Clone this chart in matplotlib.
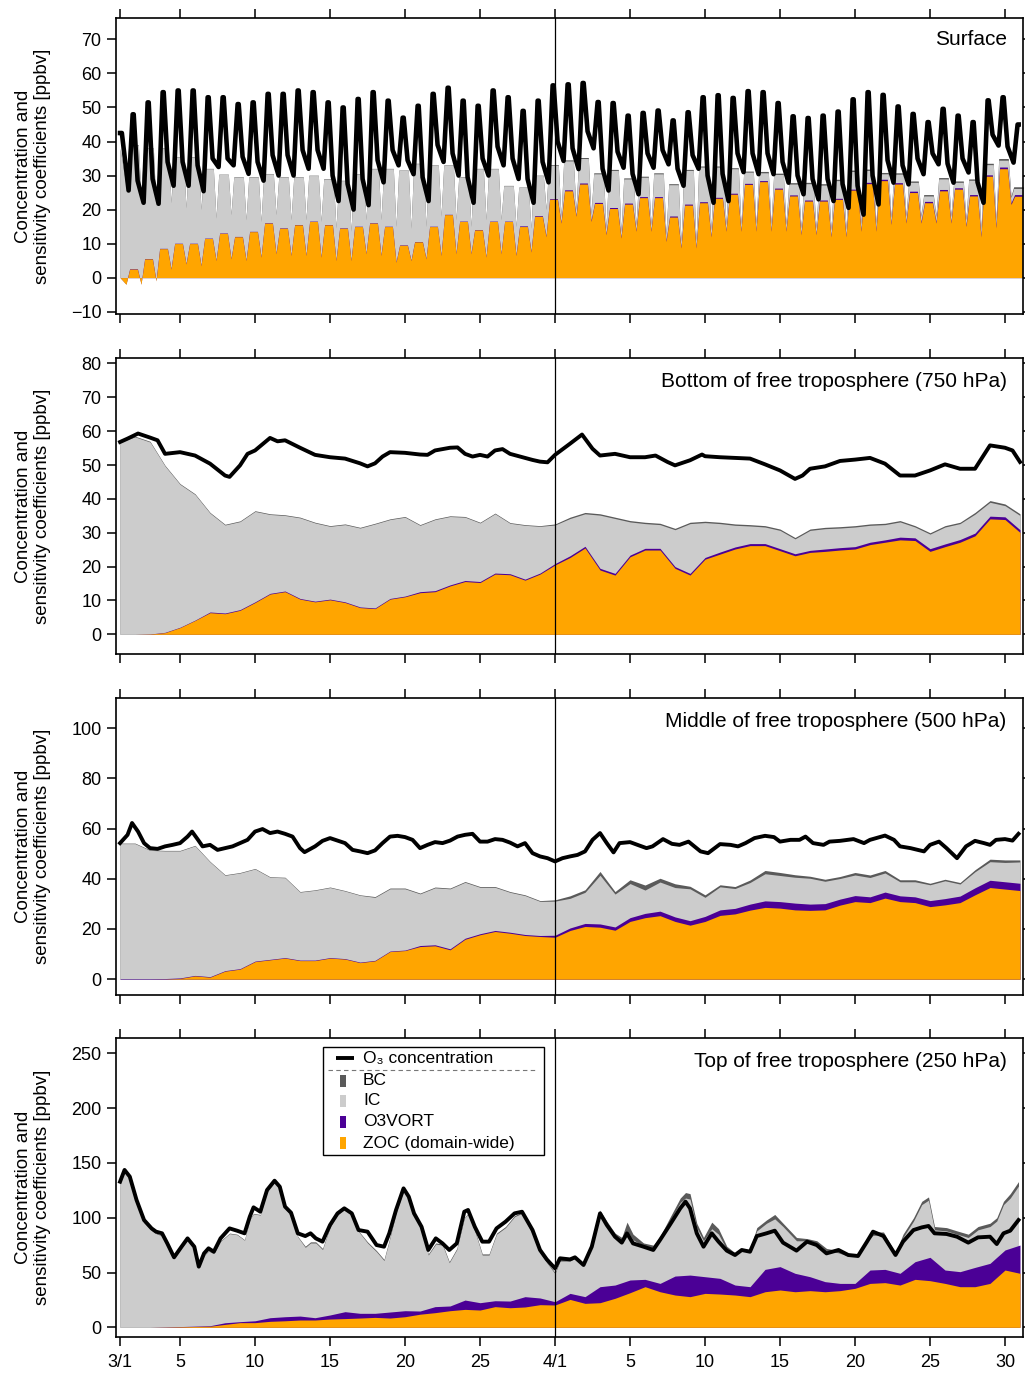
import numpy as np
import matplotlib
matplotlib.use("Agg")
import matplotlib.pyplot as plt
from matplotlib.patches import Rectangle

plt.rcParams['font.family'] = ['Liberation Sans', 'DejaVu Sans']

# renkler / colours of the stacked contributions
c_zoc = '#FFA500'
c_vort = '#4B0096'
c_ic = '#CCCCCC'
c_bc = '#5A5A5A'

# x axis (day coordinate, 4/1 drawn at 30)
tick_pos = [1, 5, 10, 15, 20, 25, 30, 35, 40, 45, 50, 55, 60]
tick_lab = ['3/1', '5', '10', '15', '20', '25', '4/1', '5', '10', '15', '20', '25', '30']
month_split = 30

# ---------------- surface (daily troughs / peaks / evening shoulders) ----
sfc_days = np.arange(1, 61)
sfc_o3_start = 42.5
sfc_o3_low = [25.6, 22, 21.7, 27, 27, 25.4, 32.5, 33, 30.5, 28.5, 30, 30, 32, 32, 22.5,
              20, 21.3, 28, 33, 30.4, 22.5, 34, 30, 22, 30, 33, 29, 22, 28,
              34.3, 31.9, 38, 25.6, 32.3, 24.5, 32.3, 33.3, 27, 32, 22, 22.5, 31, 30.4, 30.4,
              27.9, 24.5, 23, 22.5, 20.5, 18.5, 21.5, 27.9, 27.4, 30.4, 33.3, 27.9, 30.9, 22,
              38.8, 33.8]
sfc_o3_high = [48, 51.5, 54.5, 55, 55, 53, 53, 51, 51.5, 54, 54, 55, 54.5, 51.5, 50,
               52.5, 54.5, 52, 47, 50.5, 54, 55.8, 52, 50.5, 55, 53, 49, 52, 56.5,
               56.8, 57.2, 51.6, 51.3, 47.6, 48.4, 49.1, 46.2, 48.6, 53, 53.6, 52.8, 54.8,
               54.5, 51.3, 47.4, 46.9, 47.6, 48.8, 52.4, 54.5, 53.7, 50.3, 48.1, 45.7, 49.6,
               47.6, 45.7, 52.1, 53, 45]
sfc_o3_eve = [28.5, 29, 34, 34, 33, 35, 35, 35.5, 34, 36, 36, 37.5, 37.5, 30, 27.5,
              29, 34.5, 37.5, 34.5, 29.5, 39, 36.5, 29.5, 35, 38.5, 35, 29, 34, 40,
              38, 43, 32, 37, 30.5, 36.5, 37.5, 32, 36, 30, 30.5, 36.5, 36.5, 36.5, 34,
              30, 29, 29, 27.5, 27, 30, 34.5, 33, 35, 36.5, 33.5, 35, 28, 42, 38.5]
sfc_zoc_top = [2.5, 5.5, 8.5, 10, 10, 11.5, 13, 12, 13.5, 16, 14.5, 15.5, 16.5, 15.5, 14.5,
               15, 16, 15, 9.5, 10.5, 15, 18.5, 16.5, 14, 16.5, 16.5, 15, 18, 23,
               25.5, 27.5, 21.8, 20.3, 21.6, 23.5, 23.5, 17.8, 21.3, 22, 23.3, 24.5, 27.4,
               28.2, 26, 24, 22.5, 22.5, 23, 25.7, 27.6, 28.5, 27.5, 25, 22, 25.5, 26, 24,
               29.8, 32, 23.9]
sfc_zoc_low = [-2, -2, -1, 2.5, 4, 3.5, 5, 5.5, 5, 6, 7, 6.5, 6.5, 6, 5,
               5, 7, 6.5, 4.5, 5, 5.5, 6.5, 7, 7, 6, 7, 6.5, 7.5, 12,
               16, 18, 16.5, 12.6, 11.6, 13.6, 13.6, 10.6, 8.7, 8.7, 12, 13.6, 13.6, 13.6,
               13.6, 13.6, 12.6, 12.6, 12, 12, 13.6, 13.6, 15.6, 16, 16, 16, 16, 15, 12,
               14.6, 21.5]
sfc_tot_top = [39, 38, 38, 35.5, 35.5, 32, 30.3, 29.5, 29.5, 30.5, 29.5, 29.5, 30, 29, 28.5,
               30.5, 32, 32, 31.5, 33.5, 33, 33, 29.5, 32, 32, 27, 26.5, 30, 33,
               34.3, 35, 30.5, 31.5, 29, 29.5, 30.5, 27.3, 31.5, 32.5, 32.5, 32, 31, 30.8,
               30.3, 27.5, 27.6, 27.2, 28.5, 31.2, 31.5, 30.5, 30.4, 28, 24, 29, 28, 28.6,
               33.2, 34.5, 26.2]
sfc_tot_low = [27, 24, 21, 22, 20.5, 20, 17.5, 18.5, 17, 16.5, 18.5, 17, 17, 16.5, 14.6,
               13.6, 17, 17, 15, 14.5, 15, 18, 17, 15, 17, 17, 15, 14.5, 20,
               18, 20, 18.5, 14.5, 13.5, 15.5, 15.5, 12.5, 10.5, 10.5, 14, 15.5, 15.5, 15.5,
               15.5, 15.5, 14.5, 14.5, 14, 14, 15.5, 15.5, 17.5, 18, 18, 18, 18, 17, 14,
               16.5, 23.5]
sfc_vort = [0.1, 0.1, 0.1, 0.1, 0.1, 0.1, 0.1, 0.1, 0.1, 0.1, 0.1, 0.1, 0.1, 0.1, 0.1,
            0.1, 0.1, 0.1, 0.1, 0.1, 0.1, 0.1, 0.1, 0.1, 0.1, 0.1, 0.2, 0.2, 0.2,
            0.3, 0.3, 0.3, 0.3, 0.3, 0.3, 0.3, 0.3, 0.3, 0.3, 0.3, 0.3, 0.3, 0.3, 0.3,
            0.3, 0.3, 0.3, 0.3, 0.3, 0.4, 0.4, 0.4, 0.4, 0.4, 0.4, 0.4, 0.4, 0.4,
            0.5, 0.5]
sfc_bc = [0.1, 0.1, 0.1, 0.1, 0.1, 0.1, 0.1, 0.1, 0.1, 0.1, 0.1, 0.1, 0.1, 0.1, 0.1,
          0.1, 0.1, 0.1, 0.1, 0.1, 0.1, 0.1, 0.1, 0.1, 0.1, 0.1, 0.1, 0.1, 0.2,
          0.3, 0.3, 0.3, 0.3, 0.3, 0.3, 0.3, 0.3, 0.3, 0.3, 0.3, 0.3, 0.3, 0.4, 0.4,
          0.4, 0.4, 0.4, 0.4, 0.4, 0.4, 0.4, 0.4, 0.4, 0.4, 0.4, 0.4, 0.4, 0.4,
          0.5, 0.5]

# ---------------- 750 hPa ----------------
p2_t_o3 = [1, 1.5, 2.2, 3, 3.5, 4, 5, 6, 7, 8, 8.3, 9, 9.5, 10, 11, 11.5, 12, 13, 14, 15,
           16, 17, 17.5, 18, 18.5, 19, 20, 21, 21.5, 22, 23, 23.5, 24, 24.5, 25, 25.5, 26,
           26.5, 27, 28, 28.5, 29, 29.5, 30, 31, 31.8, 32.5, 33, 34, 35, 36, 36.7, 37.5, 38,
           39, 39.8, 40, 41, 42, 43, 44, 45, 46, 46.5, 47, 48, 49, 50, 51, 52, 53, 54, 55,
           56, 57, 58, 59, 60, 60.5, 61]
p2_o3 = [56.8, 57.8, 59.3, 58.1, 57.3, 53.3, 53.8, 52.8, 50.4, 46.9, 46.5, 49.9, 53.3, 54.3,
         58, 57, 57.3, 55.1, 53, 52.3, 51.9, 50.5, 49.6, 50.5, 52.5, 53.8, 53.6, 53.1, 53,
         54.3, 55.1, 55.2, 53.3, 52.5, 53, 52.5, 54.3, 54.7, 53.3, 52.1, 51.5, 51, 50.8, 53,
         56.3, 59, 54.8, 52.8, 53.3, 52.3, 52.3, 52.8, 50.9, 49.9, 51.4, 53.1, 52.6, 52.3,
         52.1, 51.9, 50.2, 48.4, 45.9, 46.9, 48.9, 49.6, 51.2, 51.6, 52.1, 50.4, 46.9, 46.9,
         48.4, 50.2, 48.9, 48.9, 55.8, 55.1, 54.3, 50.9]
p2_days = np.arange(1, 62)
p2_top = [57, 58.5, 57, 49.9, 44.5, 41.5, 36, 32.5, 33.5, 36.5, 35.6, 35.3, 34.6, 33.1, 32.1,
          32.6, 31.6, 32.8, 34.1, 34.8, 32.4, 34.1, 35, 34.8, 33.1, 35.8, 33, 32.4, 32.1, 32.6,
          34.6, 36, 35.6, 34.6, 33.6, 33.1, 32.8, 31.3, 33.1, 33.4, 33.1, 32.6, 32.4, 32.1,
          31.1, 28.6, 31.1, 31.6, 31.8, 32.1, 32.6, 32.8, 33.6, 32.1, 30, 32.1, 33.1, 36,
          39.5, 38.5, 35.6]
p2_bc = [0.2, 0.2, 0.2, 0.2, 0.2, 0.2, 0.2, 0.2, 0.2, 0.2, 0.2, 0.2, 0.2, 0.2, 0.2,
         0.2, 0.2, 0.2, 0.2, 0.2, 0.2, 0.2, 0.2, 0.2, 0.2, 0.2, 0.2, 0.2, 0.2, 0.3,
         0.4, 0.4, 0.4, 0.4, 0.4, 0.4, 0.4, 0.4, 0.4, 0.4, 0.4, 0.4, 0.4, 0.4, 0.4,
         0.4, 0.4, 0.4, 0.4, 0.4, 0.4, 0.4, 0.4, 0.4, 0.4, 0.4, 0.4, 0.5, 0.5, 0.5, 0.5]
p2_zoc = [0, 0, 0.1, 0.5, 2, 4.1, 6.4, 6.1, 7.1, 9.4, 11.9, 12.6, 10.4, 9.6, 10.2, 9.4, 7.9,
          7.6, 10.4, 11.1, 12.3, 12.6, 14.3, 15.6, 15.3, 17.8, 17.6, 16, 17.8, 20.5, 22.7,
          25.5, 19, 17.5, 22.9, 24.9, 24.9, 19.5, 17.5, 22.2, 23.7, 25.2, 26.2, 26.2, 24.7,
          23.2, 24.2, 24.5, 24.9, 25.2, 26.5, 27.2, 27.9, 27.7, 24.5, 25.9, 27.2, 29.1, 34.1,
          33.9, 30.1]
p2_vort = [0, 0, 0, 0.1, 0.1, 0.1, 0.2, 0.2, 0.2, 0.2, 0.2, 0.2, 0.2, 0.2, 0.2,
           0.2, 0.2, 0.2, 0.2, 0.2, 0.3, 0.3, 0.3, 0.3, 0.3, 0.3, 0.3, 0.3, 0.3, 0.4,
           0.5, 0.5, 0.5, 0.5, 0.5, 0.5, 0.5, 0.5, 0.5, 0.5, 0.6, 0.6, 0.6, 0.6, 0.6,
           0.6, 0.6, 0.7, 0.7, 0.7, 0.7, 0.7, 0.8, 0.8, 0.8, 0.8, 0.8, 0.8, 0.8, 0.8, 0.8]

# ---------------- 500 hPa ----------------
p3_t_o3 = [1, 1.5, 1.8, 2.2, 2.6, 3, 3.5, 4, 4.5, 5, 5.5, 5.8, 6.2, 6.5, 7, 7.5, 8, 8.5, 9,
           9.5, 10, 10.5, 11, 11.5, 12, 12.5, 13, 13.3, 14, 14.5, 15, 15.5, 16, 16.5, 17,
           17.5, 18, 18.5, 19, 19.5, 20, 20.5, 21, 21.5, 22, 22.5, 23, 23.5, 24, 24.5, 25,
           25.5, 26, 26.5, 27, 27.5, 28, 28.5, 29, 29.5, 30, 30.5, 31, 31.5, 32, 32.5, 33,
           33.45, 33.9, 34.3, 35, 35.5, 36.1, 36.5, 37.2, 37.8, 38.3, 38.9, 39.7, 40.2, 41,
           41.7, 42.2, 42.7, 43.3, 44, 44.6, 45, 45.7, 46.3, 46.7, 47.2, 47.9, 48.3, 49,
           49.9, 50.6, 51, 52, 52.6, 53, 53.7, 54.6, 55, 55.6, 56.1, 56.8, 57.4, 58, 58.6,
           59, 59.4, 60, 60.5, 60.9]
p3_o3 = [54.2, 57.5, 62.2, 58.8, 54.2, 52.2, 51.9, 52.9, 53.5, 54.2, 56.8, 58.8, 55.5, 52.9,
         53.5, 51.5, 52.2, 52.9, 54.2, 55.5, 58.8, 59.8, 58.2, 58.8, 57.9, 56.8, 52.2, 50.6,
         52.9, 55.1, 56.2, 55.2, 54.2, 51.5, 50.9, 50.2, 51.3, 54.2, 56.8, 57.1, 56.6, 55.5,
         52.2, 53.5, 54.6, 54.2, 55.2, 56.8, 57.5, 57.9, 54.8, 54.8, 55.8, 55.5, 54.4, 52.9,
         54.2, 50.2, 48.9, 48.2, 46.9, 48.2, 48.9, 49.5, 50.9, 55.5, 58.2, 54.2, 50.5, 54.2,
         54.6, 53.5, 52.2, 52.9, 55.8, 53.9, 53.5, 54.8, 50.9, 50.2, 53.8, 53.5, 52.9, 54.2,
         56.2, 57.1, 56.6, 54.8, 55.5, 55.5, 56.8, 54.2, 53.5, 54.8, 55.1, 55.8, 54.2, 55.5,
         57.2, 55.5, 52.9, 52.2, 50.9, 53.5, 54.8, 52.2, 48.2, 52.9, 55.1, 54.2, 53.5, 55.5,
         55.8, 55.2, 57.9]
p3_days = np.arange(1, 62)
p3_top = [54.2, 54.2, 51.5, 51.3, 51.3, 53.3, 46.9, 41.6, 42.5, 44.1, 40.8, 40.6, 34.9, 35.6,
          36.7, 35.3, 33.6, 32.9, 36.3, 36.3, 34.3, 36.7, 36.3, 38.9, 36.9, 36.9, 34.9, 33.6,
          31.3, 31.6, 33.2, 35.6, 42.9, 34.9, 39.6, 37.5, 40.2, 38, 37, 33.6, 37.6, 36.9,
          39.5, 43.3, 42.5, 41.6, 41, 39.8, 40.9, 42.5, 41.5, 43.3, 39.6, 39.6, 38.2, 39.8,
          38.5, 43.6, 47.8, 47.5, 47.5]
p3_bc = [0.2, 0.2, 0.2, 0.2, 0.2, 0.2, 0.2, 0.2, 0.2, 0.2, 0.2, 0.2, 0.2, 0.2, 0.2,
         0.2, 0.2, 0.3, 0.3, 0.3, 0.3, 0.3, 0.3, 0.3, 0.3, 0.3, 0.3, 0.3, 0.3, 0.5,
         1, 1, 1.5, 1, 1.5, 2, 1.5, 1.5, 1, 1, 0.8, 0.8, 1, 1.3, 1.2, 1, 0.8, 0.8, 0.8,
         1, 1, 1, 0.8, 0.8, 0.6, 0.6, 0.6, 0.8, 1, 1, 0.8]
p3_zoc = [0, 0, 0, 0.05, 0.3, 1.3, 0.8, 3.2, 4, 7, 7.7, 8.4, 7.4, 7.4, 8.4, 8, 6.6, 7.3, 11,
          11.4, 13, 13.3, 11.7, 15.9, 17.7, 19, 18.3, 17.4, 17, 16.7, 19.4, 21, 20.7, 19.5,
          23, 24.5, 25.3, 23, 21.5, 23, 25.4, 26, 27.5, 28.6, 28.3, 27.6, 27.4, 27.6, 29.5,
          30.9, 30.5, 32.3, 30.9, 30.5, 28.9, 29.6, 30.5, 33.6, 36.5, 35.9, 35.3]
p3_vort = [0.2, 0.2, 0.2, 0.2, 0.2, 0.2, 0.2, 0.2, 0.2, 0.2, 0.2, 0.2, 0.2, 0.2, 0.2,
           0.2, 0.2, 0.2, 0.2, 0.2, 0.4, 0.4, 0.4, 0.4, 0.4, 0.4, 0.4, 0.4, 0.4, 0.8,
           1, 1.2, 1.3, 1.3, 1.5, 1.7, 1.8, 1.8, 1.8, 2, 2.2, 2.2, 2.4, 2.6, 2.6, 2.7,
           2.5, 2.5, 2.4, 2.4, 2.3, 2.4, 2.3, 2.3, 2.4, 2.5, 2.6, 2.8, 2.9, 2.9, 2.9]

# ---------------- 250 hPa ----------------
p4_t = [1, 1.3, 1.65, 2.1, 2.6, 3.1, 3.4, 3.8, 4.15, 4.6, 5.1, 5.5, 5.95, 6.25, 6.6, 6.9,
        7.25, 7.7, 8.3, 8.8, 9.3, 9.65, 9.9, 10.35, 10.8, 11.3, 11.65, 12.0, 12.4, 12.85,
        13.35, 13.7, 14.05, 14.5, 15.0, 15.5, 15.95, 16.45, 16.9, 17.5, 18.1, 18.6, 18.95,
        19.4, 19.9, 20.25, 20.6, 21.1, 21.55, 22.05, 22.5, 22.95, 23.45, 23.95, 24.2, 24.65,
        25.15, 25.6, 26.1, 26.7, 27.3, 27.8, 28.5, 29, 29.45, 30,
        30.33, 31, 31.33, 31.9, 32.45, 33, 33.45, 34, 34.45, 34.8, 35.2, 35.9, 36.55, 37,
        37.65, 38.35, 38.7, 39, 39.45, 39.9, 40.45, 40.9, 41.45, 42, 42.45, 43, 43.45, 44.1,
        44.65, 45.2, 46.1, 46.8, 47.45, 48.1, 48.9, 49.55, 50.2, 50.8, 51.2, 51.9, 52.35,
        52.7, 53.2, 53.9, 54.45, 54.9, 55.3, 56.1, 56.8, 57.55, 58.2, 59, 59.45, 59.9, 60.35,
        60.9]
p4_o3 = [132.9, 143.6, 137.5, 116.2, 97.9, 90.3, 87.3, 85.8, 76.6, 63.9, 73.6, 81.2, 73.6,
         55.4, 67.5, 72.1, 69, 81.2, 90.3, 88.2, 85.8, 101, 109.5, 105.5, 125.3, 133.8,
         128.3, 110.1, 104.6, 85.8, 83.3, 85.8, 81.2, 78.2, 93.4, 104, 108.6, 104, 88.8,
         87.3, 75.1, 73.6, 85.8, 107.1, 126.8, 119.2, 104, 91.8, 70.6, 81.2, 76.6, 70.6,
         76.6, 105.5, 107.1, 91.8, 78.2, 78.2, 90.3, 96.4, 104, 105.5, 88.8, 70.6, 62, 53.8,
         63, 62, 63.9, 56.9, 73.6, 104, 93.4, 82.7, 77.3, 85.8, 76.6, 73.6, 70.6, 79.7, 93.4,
         108.6, 114.7, 108.6, 85.8, 73.6, 85.8, 78.2, 70, 66, 70.6, 69, 83.3, 85.8, 88.2,
         77.3, 70, 78.2, 75.1, 67.5, 70.6, 66, 65.1, 78.2, 87.3, 83.3, 73.6, 66, 78.2, 88.8,
         91.2, 92.5, 85.8, 85.2, 82.7, 77.3, 82.1, 82.7, 76, 85.8, 88.2, 97.9]
p4_top = [132, 142, 137, 115, 96, 89, 86, 84, 75, 63, 73, 80, 72, 56, 66, 70, 68, 79, 86, 85,
          80, 99, 104, 103, 124, 133, 128, 109, 102, 83, 74, 78, 78, 72, 92, 103, 108, 103,
          88, 78, 70, 62, 80, 105, 125, 118, 103, 90, 67, 77, 76, 60, 72, 100, 104, 89, 67,
          67, 86, 92, 102, 105, 86, 69, 60, 50,
          62, 62, 65, 58, 78, 107, 97, 86, 82, 96, 85, 77, 75, 83, 100, 118, 123, 122, 95,
          82, 96, 90, 74, 68, 72, 71, 91, 98, 103, 95, 82, 81, 79, 72, 70, 67, 67, 81, 87, 87,
          76, 68, 85, 100, 115, 119, 92, 91, 88, 85, 92, 95, 100, 115, 122, 133]
p4_bc = [0.5, 0.5, 0.5, 0.5, 0.5, 0.5, 0.5, 0.5, 0.5, 0.5, 0.5, 0.5, 0.5, 0.5, 0.5, 0.5,
         0.5, 0.5, 0.5, 0.5, 0.5, 0.5, 0.5, 0.5, 0.5, 0.5, 0.5, 0.5, 0.5, 0.5, 1, 1, 1,
         1, 0.5, 0.5, 0.5, 0.5, 0.5, 1, 1, 1, 1, 0.5, 0.5, 0.5, 0.5, 0.5, 1, 1, 1, 1, 1,
         0.5, 0.5, 1, 1, 1, 1, 1, 1, 1, 1, 1, 1, 1,
         1.5, 1.5, 2, 2, 2, 3, 3, 3, 3, 8, 5, 3, 3, 3, 3, 4, 5, 5, 4, 3, 6, 5, 3, 2, 2, 2,
         3, 3, 4, 3, 3, 2, 2, 2, 2, 2, 2, 3, 3, 3, 2, 2, 3, 3, 3, 3, 3, 3, 3, 3, 3, 3, 3,
         3, 4, 4]
p4_days = np.arange(1, 62)
p4_zoc = [0, 0, 0, 0.2, 0.5, 0.8, 1, 2.7, 4.3, 4.3, 5.5, 6, 6.7, 6.7, 7.6, 8, 8.5, 9.1, 8.5,
          9.7, 12, 13.4, 15.2, 16.4, 15.8, 18.9, 17.9, 18.6, 20.7, 20.4, 25.5, 21.9, 22.5,
          26.5, 31.6, 37.1, 32.5, 29.5, 28, 31, 30.4, 29.5, 28, 32.5, 34.1, 32.5, 33.5, 32.5,
          33.5, 35.6, 40.1, 40.8, 38.6, 43.8, 42.6, 40.1, 37.1, 37.1, 40.1, 52.3, 49.3]
p4_vort = [0, 0, 0, 0.1, 0.2, 0.3, 0.5, 1.5, 0.9, 1.7, 3.3, 3.7, 3.6, 2.1, 3.7, 6.3, 4.3,
           3.7, 5.5, 5.5, 2.9, 5.5, 4.3, 8.5, 6.7, 5.4, 6.1, 9.4, 6.1, 3, 5.5, 6.1, 14.6,
           12.1, 11.6, 6.7, 7.6, 17.3, 19.7, 15.2, 14.3, 9.1, 9.1, 20.4, 21.3, 16.8, 12.7,
           9.2, 6.6, 4.5, 12.2, 12.1, 10.7, 16.1, 21.3, 12.2, 13.7, 17.6, 18.3, 18.3, 25.8]

leg_labels = ['BC', 'IC', 'O3VORT', 'ZOC (domain-wide)']
leg_colors = [c_bc, c_ic, c_vort, c_zoc]
ylab = 'Concentration and\nsensitivity coefficients [ppbv]'


def draw_stack(ax, t_top, top, bc, t_zoc, zoc, vort):
    # painter's order: BC band, IC, O3VORT band, ZOC
    top = np.asarray(top, float)
    zoc = np.asarray(zoc, float)
    ax.fill_between(t_top, 0, top, color=c_bc, lw=0)
    ax.fill_between(t_top, 0, top - np.asarray(bc), color=c_ic, lw=0)
    ax.fill_between(t_zoc, 0, zoc + np.asarray(vort), color=c_vort, lw=0)
    ax.fill_between(t_zoc, 0, zoc, color=c_zoc, lw=0)


def style(ax, ylim, yticks, title, ty, bottom_labels=False):
    ax.set_xlim(0.73, 61.2)
    ax.set_ylim(*ylim)
    ax.set_yticks(yticks)
    ax.set_xticks(tick_pos)
    ax.set_xticklabels(tick_lab)
    ax.tick_params(direction='out', length=6.5, width=1.1, labelsize=13, pad=4,
                   top=True, right=True, labelbottom=bottom_labels)
    ax.tick_params(axis='x', pad=6)
    for s in ax.spines.values():
        s.set_linewidth(1.2)
    ax.axvline(month_split, color='black', lw=0.9, zorder=5)
    ax.set_ylabel(ylab, fontsize=13.5, linespacing=1.15)
    ax.yaxis.set_label_coords(-0.072, 0.5)
    ax.text(0.982, ty, title, transform=ax.transAxes, ha='right', va='center', fontsize=15)


fig = plt.figure(figsize=(10.25, 13.75), dpi=100)
W, H = 1025.0, 1375.0
left, width = 116 / W, 907 / W
boxes = [(18, 314), (358, 654), (698, 995), (1038, 1337)]
axs = [fig.add_axes([left, 1 - b / H, width, (b - t) / H]) for t, b in boxes]

# surface: daily cycle built from the read values (trough, peak, evening shoulder)
ax = axs[0]
t_line, v_line = [1.0, 1.12], [sfc_o3_start, sfc_o3_start]
t_z, v_z, v_vo = [1.0], [0.0], [0.0]
t_g, v_g, v_b = [1.0], [38.0], [0.0]
for i, d in enumerate(sfc_days):
    t_line += [d + 0.57, d + 0.84, d + 0.91]
    v_line += [sfc_o3_low[i], sfc_o3_high[i], sfc_o3_high[i]]
    if i < len(sfc_o3_eve):
        t_line.append(d + 1.17)
        v_line.append(sfc_o3_eve[i])
    t_z += [d + 0.4, d + 0.64, d + 1.16]
    v_z += [sfc_zoc_low[i], sfc_zoc_top[i], sfc_zoc_top[i]]
    v_vo += [sfc_vort[i]] * 3
    t_g += [d + 0.4, d + 0.58, d + 1.22]
    v_g += [sfc_tot_low[i], sfc_tot_top[i], sfc_tot_top[i]]
    v_b += [sfc_bc[i]] * 3
v_g, v_b = np.array(v_g), np.array(v_b)
draw_stack(ax, t_g, v_g + v_b, v_b, t_z, v_z, v_vo)
ax.plot(t_line, v_line, color='black', lw=3.3, solid_joinstyle='round', zorder=6)
style(ax, (-10.7, 76.3), [-10, 0, 10, 20, 30, 40, 50, 60, 70], 'Surface', 0.926)

# 750 hPa
ax = axs[1]
draw_stack(ax, p2_days, p2_top, p2_bc, p2_days, p2_zoc, p2_vort)
ax.plot(p2_t_o3, p2_o3, color='black', lw=2.8, zorder=6)
style(ax, (-5.8, 81.6), [0, 10, 20, 30, 40, 50, 60, 70, 80],
      'Bottom of free troposphere (750 hPa)', 0.922)

# 500 hPa
ax = axs[2]
draw_stack(ax, p3_days, p3_top, p3_bc, p3_days, p3_zoc, p3_vort)
ax.plot(p3_t_o3, p3_o3, color='black', lw=2.8, zorder=6)
style(ax, (-6.3, 112), [0, 20, 40, 60, 80, 100],
      'Middle of free troposphere (500 hPa)', 0.922)

# 250 hPa
ax = axs[3]
draw_stack(ax, p4_t, p4_top, p4_bc, p4_days, p4_zoc, p4_vort)
ax.plot(p4_t, p4_o3, color='black', lw=2.8, zorder=6)
style(ax, (-8.8, 264), [0, 50, 100, 150, 200, 250],
      'Top of free troposphere (250 hPa)', 0.923, bottom_labels=True)

# legend drawn by hand (box, line, dashed separator, colour chips)
tr = ax.transAxes
ax.add_patch(Rectangle((0.2282, 0.6087), 0.2437, 0.3613, transform=tr, facecolor='white',
                       edgecolor='black', lw=1.0, zorder=10))
ax.plot([0.2426, 0.2624], [0.9331, 0.9331], transform=tr, color='black', lw=2.8,
        solid_capstyle='butt', zorder=11)
ax.text(0.2723, 0.9331, 'O\u2083 concentration', transform=tr, va='center', fontsize=12.5,
        zorder=11)
ax.plot([0.2337, 0.4642], [0.893, 0.893], transform=tr, color='#777777', lw=0.8,
        ls=(0, (4, 3)), zorder=11)
rows = [0.8562, 0.7893, 0.7191, 0.6488]
for lab, col, yy in zip(leg_labels, leg_colors, rows):
    ax.add_patch(Rectangle((0.2475, yy - 0.02), 0.0056, 0.04, transform=tr, facecolor=col,
                           lw=0, zorder=11))
    ax.text(0.2723, yy, lab, transform=tr, va='center', fontsize=12.5, zorder=11)

fig.savefig('out.png', dpi=100)
